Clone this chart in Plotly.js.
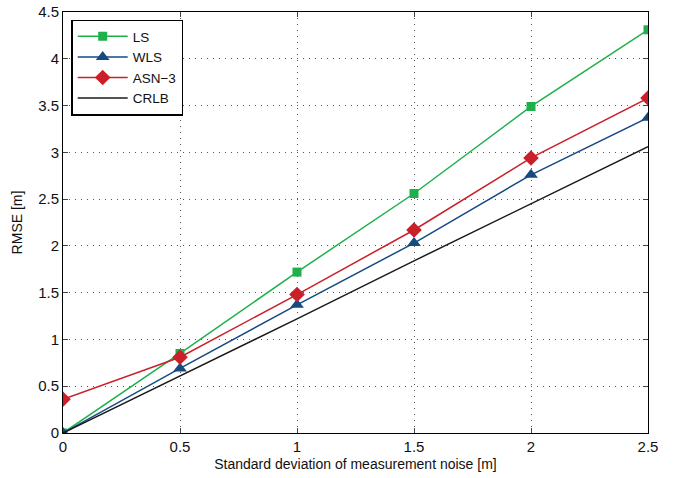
<!DOCTYPE html>
<html>
<head>
<meta charset="utf-8">
<script src="https://cdn.plot.ly/plotly-3.0.1.min.js"></script>
<style>html,body{margin:0;padding:0;background:#fff;}#chart{width:677px;height:478px;}</style>
</head>
<body>
<div id="chart"></div>
<script>
var noise = [0, 0.5, 1, 1.5, 2, 2.5];
var lsVals = [0, 0.85, 1.72, 2.56, 3.49, 4.31];
var wlsVals = [0, 0.69, 1.37, 2.03, 2.76, 3.37];
var asnVals = [0.36, 0.81, 1.48, 2.17, 2.94, 3.58];
var crlbVals = [0, 0.61, 1.22, 1.84, 2.45, 3.06];
var seriesNames = ['LS', 'WLS', 'ASN\u22123', 'CRLB'];
var xTicks = [0, 0.5, 1, 1.5, 2, 2.5];
var xTickLabels = ['0', '0.5', '1', '1.5', '2', '2.5'];
var yTicks = [0, 0.5, 1, 1.5, 2, 2.5, 3, 3.5, 4, 4.5];
var yTickLabels = ['0', '0.5', '1', '1.5', '2', '2.5', '3', '3.5', '4', '4.5'];

var traces = [
  {x: noise, y: lsVals, name: seriesNames[0], mode: 'lines+markers',
   line: {color: '#1db04b', width: 1.5}, marker: {symbol: 'square', size: 9, color: '#1db04b'}},
  {x: noise, y: wlsVals, name: seriesNames[1], mode: 'lines+markers',
   line: {color: '#154a82', width: 1.5}, marker: {symbol: 'triangle-up', size: 12, color: '#154a82'}},
  {x: noise, y: asnVals, name: seriesNames[2], mode: 'lines+markers',
   line: {color: '#c9202a', width: 1.5}, marker: {symbol: 'diamond', size: 12, color: '#c9202a'}},
  {x: noise, y: crlbVals, name: seriesNames[3], mode: 'lines',
   line: {color: '#1a1a1a', width: 1.5}}
];

var axisCommon = {
  showline: true, linecolor: '#000', linewidth: 1, mirror: 'ticks',
  ticks: 'inside', ticklen: 5, tickcolor: '#444', tickwidth: 1,
  showgrid: true, gridcolor: '#555', griddash: '1px,5px', gridwidth: 1,
  zeroline: false,
  tickfont: {family: 'Liberation Sans, Arial, sans-serif', size: 15, color: '#111'}
};

var layout = {
  width: 677, height: 478,
  margin: {l: 63, r: 29, t: 12, b: 45},
  paper_bgcolor: '#fff', plot_bgcolor: '#fff',
  showlegend: true,
  xaxis: Object.assign({}, axisCommon, {
    range: [0, 2.5], tickvals: xTicks, ticktext: xTickLabels,
    title: {text: 'Standard deviation of measurement noise [m]', standoff: 5,
            font: {family: 'Liberation Sans, Arial, sans-serif', size: 14, color: '#111'}}
  }),
  yaxis: Object.assign({}, axisCommon, {
    range: [0, 4.5], tickvals: yTicks, ticktext: yTickLabels,
    title: {text: 'RMSE [m]', standoff: 12,
            font: {family: 'Liberation Sans, Arial, sans-serif', size: 14, color: '#111'}}
  }),
  legend: {
    x: 0.014, y: 0.982, xanchor: 'left', yanchor: 'top',
    bgcolor: '#fff', bordercolor: '#000', borderwidth: 1.5,
    itemwidth: 50,
    font: {family: 'Liberation Sans, Arial, sans-serif', size: 13.5, color: '#111'}
  }
};

Plotly.newPlot('chart', traces, layout, {staticPlot: true, displayModeBar: false});
</script>
</body>
</html>
